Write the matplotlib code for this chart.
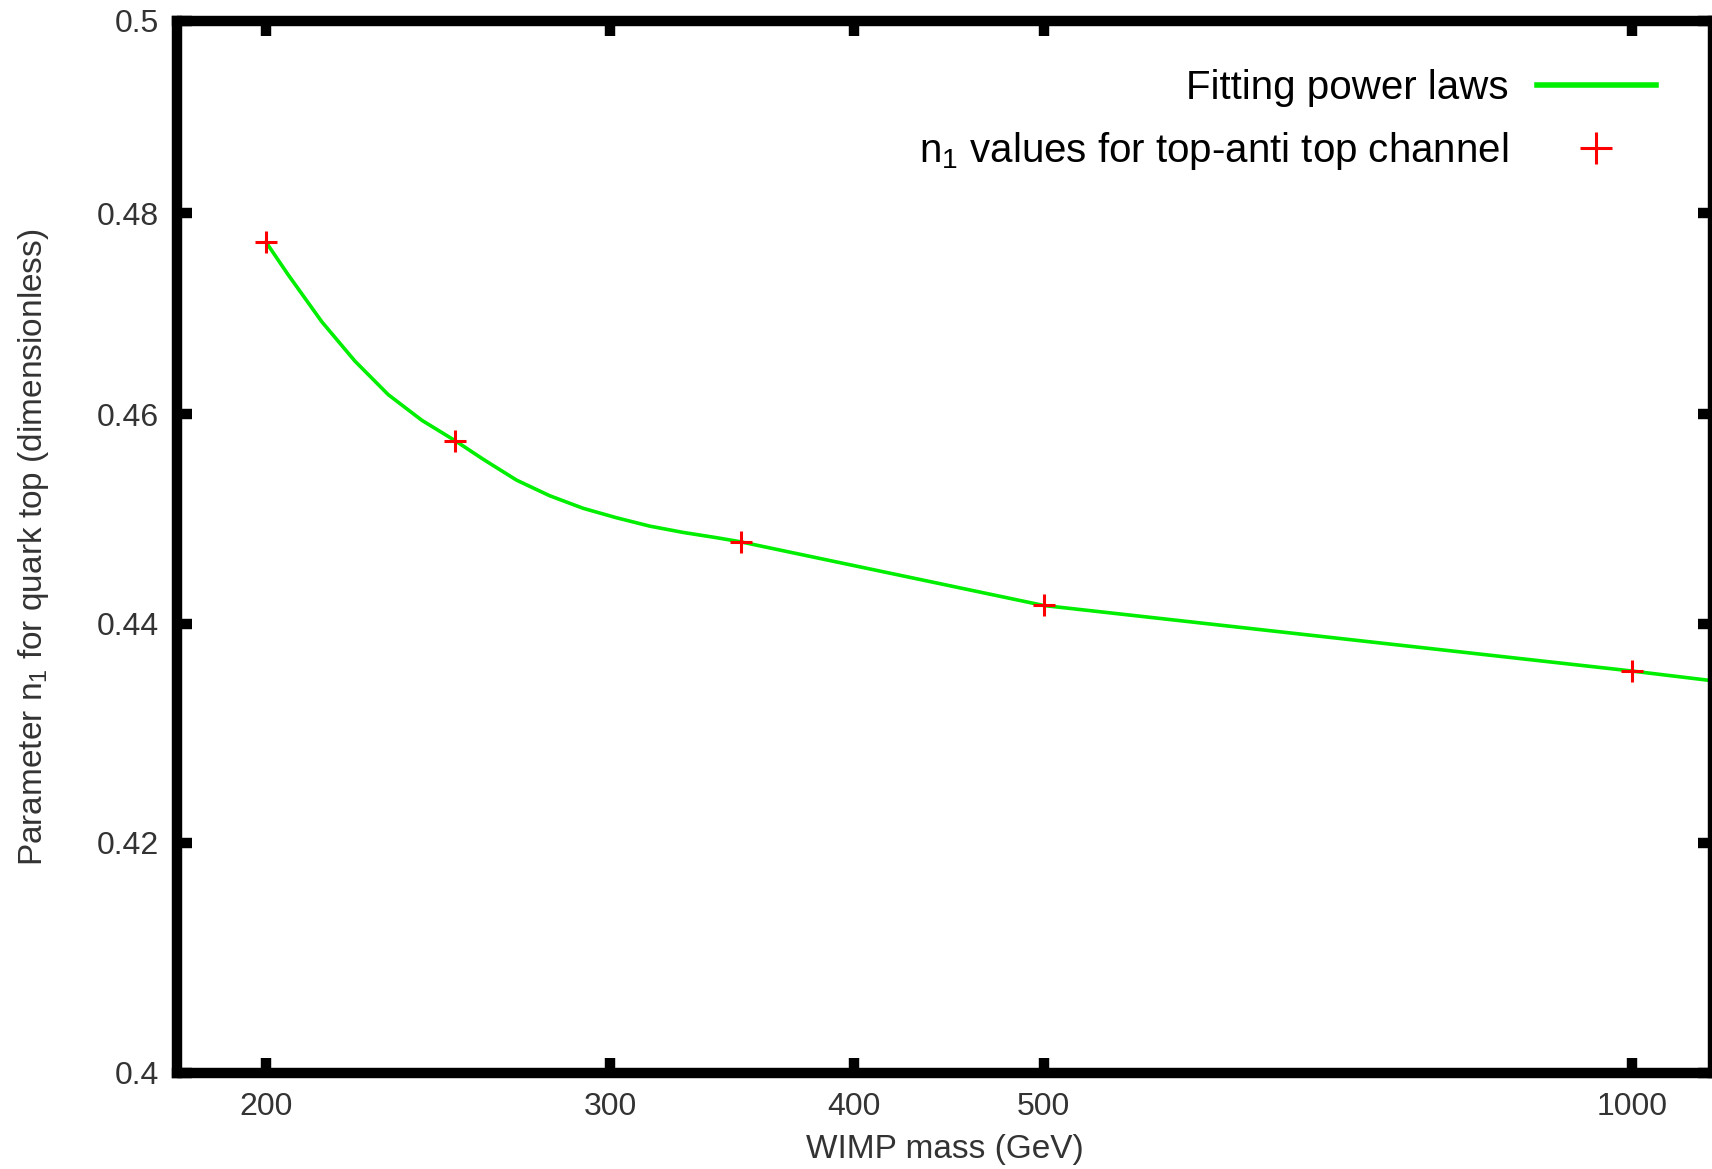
import matplotlib
matplotlib.use("Agg")
import matplotlib.pyplot as plt

plt.rcParams['font.family'] = ['Liberation Sans', 'DejaVu Sans']
plt.rcParams['mathtext.fontset'] = 'custom'
plt.rcParams['mathtext.rm'] = 'Liberation Sans'
plt.rcParams['mathtext.it'] = 'Liberation Sans'

# Data points (WIMP mass in GeV, n1)
mass = [200, 250, 350, 500, 1000]
n1 = [0.4771, 0.4574, 0.4477, 0.4417, 0.4356]

# Fitted curve
fit_mass = [200, 205.3, 213.6, 222.1, 231.0, 240.3, 250, 258.4, 268.7, 279.4,
            290.6, 302.2, 314.3, 326.9, 340, 350, 500, 1000, 1100]
fit_n1 = [0.4771, 0.4738, 0.4691, 0.4652, 0.4619, 0.4594, 0.4574, 0.4556, 0.4536,
          0.4521, 0.4509, 0.4500, 0.4492, 0.4486, 0.4481, 0.4477, 0.4417, 0.4356, 0.4347]

xticks = [200, 300, 400, 500, 1000]
xticklabels = ["200", "300", "400", "500", "1000"]
yticks = [0.4, 0.42, 0.44, 0.46, 0.48, 0.5]
yticklabels = ["0.4", "0.42", "0.44", "0.46", "0.48", "0.5"]

fig = plt.figure(figsize=(17.12, 11.69), dpi=100)
ax = fig.add_axes([177 / 1712, 1 - 1073 / 1169, (1713 - 177) / 1712, (1073 - 21) / 1169])

ax.plot(fit_mass, fit_n1, color='#00ee00', lw=2.6, label='Fitting power laws', zorder=2)
ax.plot(mass, n1, linestyle='none', marker='+', color='#ff0000', markersize=16.5,
        markeredgewidth=2.2, label=r'n$_1$ values for top-anti top channel', zorder=3)

ax.set_xscale('log')
ax.set_yscale('log')
ax.set_xlim(180.1, 1100)
ax.set_ylim(0.4, 0.5)

ax.minorticks_off()
ax.set_xticks(xticks)
ax.set_xticklabels(xticklabels)
ax.set_yticks(yticks)
ax.set_yticklabels(yticklabels)
ax.minorticks_off()

ax.tick_params(axis='both', which='major', direction='in', length=10.8, width=7.5,
               top=True, right=True, labelsize=23, labelcolor='#333333', pad=13)
ax.tick_params(axis='x', pad=14)
for sp in ax.spines.values():
    sp.set_linewidth(7.5)
    sp.set_color('black')

ax.set_xlabel('WIMP mass (GeV)', fontsize=24, color='#333333', labelpad=8)
ax.set_ylabel(r'Parameter n$_1$ for quark top (dimensionless)', fontsize=24,
              color='#333333', labelpad=33)

leg = ax.legend(loc='upper right', bbox_to_anchor=(0.981, 0.981), frameon=False,
                markerfirst=False, fontsize=29, handlelength=2.95, handletextpad=0.7,
                labelspacing=0.57, markerscale=1.4, borderaxespad=0.3)
for h in leg.legend_handles:
    if hasattr(h, 'set_linewidth'):
        h.set_linewidth(4)
for t in leg.get_texts():
    t.set_color('black')

fig.savefig('out.png', dpi=100)
